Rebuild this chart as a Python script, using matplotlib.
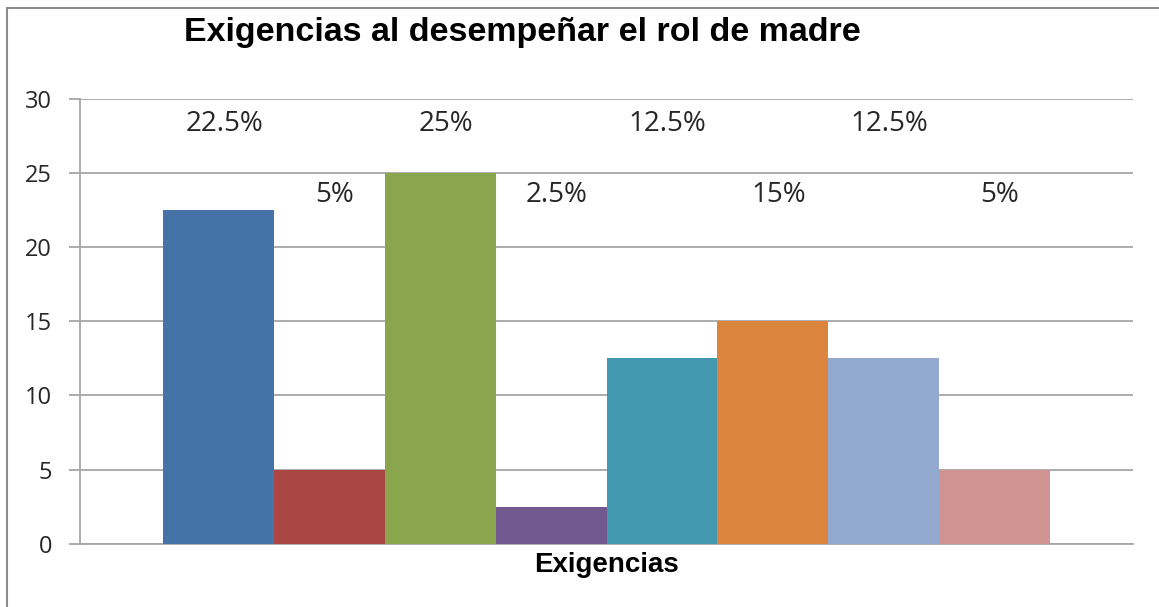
import matplotlib
matplotlib.use('Agg')
import matplotlib.pyplot as plt
from matplotlib.patches import Rectangle

plt.rcParams['font.family'] = ['Liberation Sans', 'DejaVu Sans']

# Data
categories = ['1', '2', '3', '4', '5', '6', '7', '8']
values = [22.5, 5, 25, 2.5, 12.5, 15, 12.5, 5]
pct_labels = ['22.5%', '5%', '25%', '2.5%', '12.5%', '15%', '12.5%', '5%']
colors = ['#4572A7', '#AA4643', '#89A54E', '#71588F',
          '#4198AF', '#DB843D', '#93A9CF', '#D19392']

GRID = '#a6a6a6'
LABEL_FONT = ['Open Sans', 'DejaVu Sans']
W, H = 1159, 607

fig = plt.figure(figsize=(W / 100, H / 100), dpi=100)
ax = fig.add_axes([80 / W, 1 - 543.7 / H, (1133 - 80) / W, (543.7 - 99) / H])

x = range(len(values))
ax.bar(x, values, width=1.0, color=colors, edgecolor='none', zorder=3)

ax.set_xlim(-1.25, len(values) - 1 + 1.25)
ax.set_ylim(0, 30)
ax.set_yticks([0, 5, 10, 15, 20, 25, 30])
ax.grid(True, axis='y', color=GRID, linewidth=1.3, zorder=0)
ax.set_axisbelow(True)
for s in ['top', 'right']:
    ax.spines[s].set_visible(False)
ax.spines['left'].set_color(GRID)
ax.spines['bottom'].set_color(GRID)
ax.spines['left'].set_linewidth(1.3)
ax.spines['bottom'].set_linewidth(1.3)
ax.tick_params(axis='y', length=8, width=1.3, color=GRID, labelsize=17,
               labelcolor='#262626', pad=12)
ax.tick_params(axis='x', bottom=False, labelbottom=False)
for lab in ax.get_yticklabels():
    lab.set_family(LABEL_FONT)

# Percentage labels, alternating rows
for i, (v, t) in enumerate(zip(values, pct_labels)):
    y = 28.3 if i % 2 == 0 else 23.5
    ax.text(i + 0.05, y, t, ha='center', va='center', fontsize=20,
            color='#262626', family=LABEL_FONT)

ax.set_xlabel('Exigencias', fontsize=20, fontweight='bold', labelpad=6)
fig.text(522 / W, 1 - 33 / H, 'Exigencias al desempeñar el rol de madre',
         ha='center', va='center', fontsize=24.5, fontweight='bold')

# Outer frame (left and top visible)
fig.patches.append(Rectangle((7 / W, -0.05), 1.2, 1 - 8 / H + 0.05,
                             transform=fig.transFigure, fill=False,
                             edgecolor='#8c8c8c', linewidth=1.5))

fig.savefig('out.png', dpi=100)
